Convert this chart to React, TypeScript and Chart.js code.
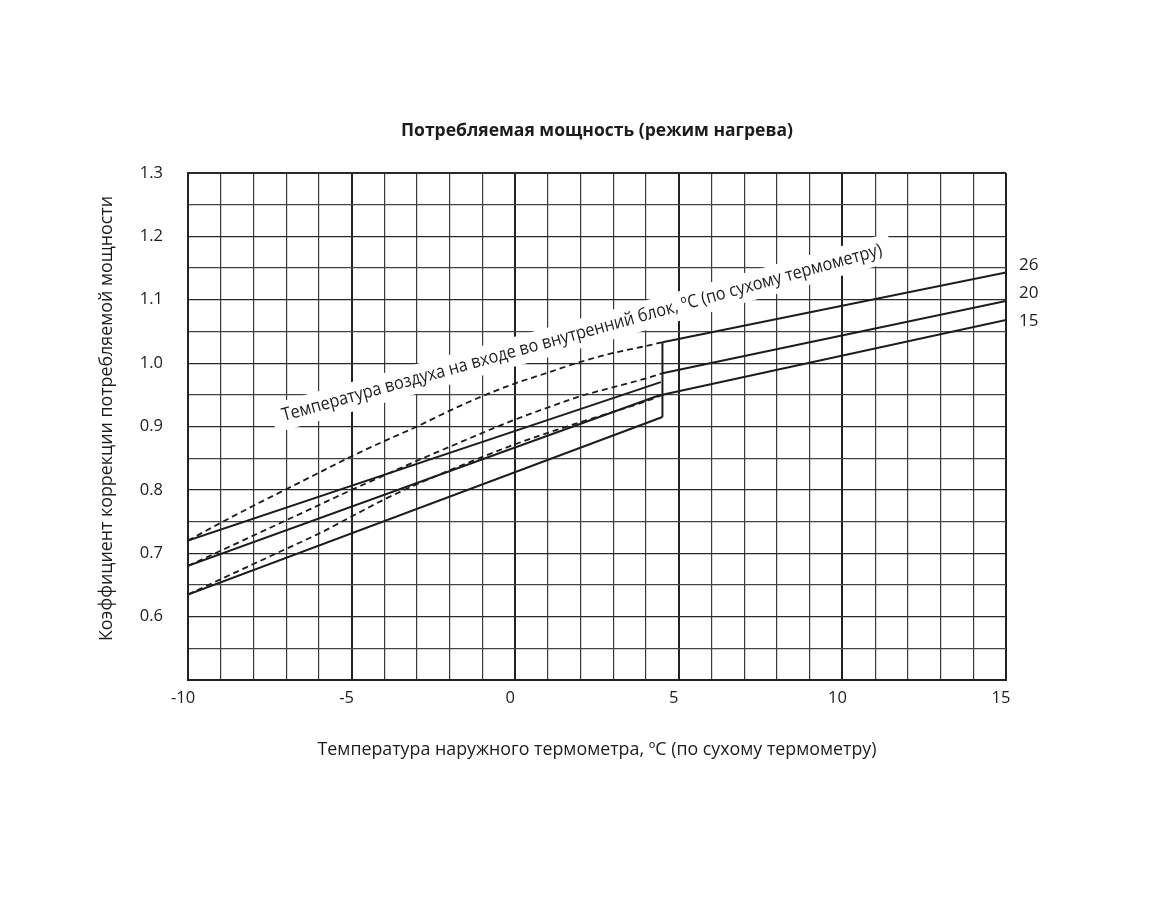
import React, { useEffect, useRef } from 'react';
import { Chart, registerables } from 'chart.js';

Chart.register(...registerables);

// ---------- Data ----------
const chartTitle = 'Потребляемая мощность (режим нагрева)';
const xAxisTitle = 'Температура наружного термометра, ºC (по сухому термометру)';
const yAxisTitle = 'Коэффициент коррекции потребляемой мощности';
const curveNote = 'Температура воздуха на входе во внутренний блок, ºC (по сухому термометру)';

const xTickLabels = [-10, -5, 0, 5, 10, 15];
const yTickLabels = [0.6, 0.7, 0.8, 0.9, 1.0, 1.1, 1.2, 1.3];

// indoor temperature curve labels (°C)
const indoorTemps = ['26', '20', '15'];
const indoorLabelValues = [1.155, 1.11, 1.066];

// dashed curves (left part)
const dashedX = [-10, -9, -8, -7, -6, -5, -4, -3, -2, -1, 0, 1, 2, 3, 4, 4.5];
const dashed26 = [0.72, 0.748, 0.775, 0.801, 0.827, 0.853, 0.877, 0.9, 0.925, 0.948, 0.968, 0.985, 1.002, 1.016, 1.027, 1.033];
const dashed20 = [0.68, 0.704, 0.728, 0.752, 0.776, 0.8, 0.823, 0.846, 0.868, 0.89, 0.911, 0.93, 0.948, 0.962, 0.976, 0.984];
const dashed15 = [0.635, 0.659, 0.683, 0.707, 0.731, 0.758, 0.785, 0.809, 0.831, 0.852, 0.872, 0.89, 0.907, 0.923, 0.94, 0.95];

// solid straight lines (left part)
const solidLeftX = [-10, 4.45];
const solidLeftTop = [0.72, 0.97];
const solidLeftMid = [0.68, 0.95];
const solidLeftLowX = [-10, 4.5];
const solidLeftLow = [0.635, 0.915];

// vertical limit line
const limitX = [4.5, 4.5];
const limitY = [0.915, 1.033];

// solid straight lines (right part)
const rightX = [4.5, 15];
const right26 = [1.033, 1.143];
const right20 = [0.984, 1.098];
const right15 = [0.95, 1.068];

// ---------- Helpers ----------
const FONT = '"Open Sans", "Noto Sans", sans-serif';
const INK = '#1c1c1c';

const pts = (xs: number[], ys: number[]) => xs.map((x, i) => ({ x, y: ys[i] }));

// draws text of a given font size, squeezed horizontally to a target width
function drawFitted(
  ctx: CanvasRenderingContext2D,
  text: string,
  x: number,
  y: number,
  size: number,
  weight: string,
  target: number,
  angleDeg: number
) {
  ctx.save();
  ctx.font = `${weight} ${size}px ${FONT}`;
  const w = ctx.measureText(text).width;
  ctx.translate(x, y);
  ctx.rotate((angleDeg * Math.PI) / 180);
  ctx.scale(target / w, 1);
  ctx.fillText(text, 0, 0);
  ctx.restore();
}

const NOTE_ANGLE = -15.5;
const NOTE_W = 622;
const NOTE_SIZE = 18;

const textPlugin = {
  id: 'textPlugin',
  beforeDatasetsDraw(chart: any) {
    const { ctx, scales } = chart;
    const cx = scales.x.getPixelForValue(2.04);
    const cy = scales.y.getPixelForValue(1.0475);
    ctx.save();
    ctx.translate(cx, cy);
    ctx.rotate((NOTE_ANGLE * Math.PI) / 180);
    ctx.fillStyle = '#ffffff';
    ctx.fillRect(-NOTE_W / 2 - 10, -NOTE_SIZE * 0.8, NOTE_W + 20, NOTE_SIZE * 1.6);
    ctx.restore();
  },
  afterDatasetsDraw(chart: any) {
    const { ctx, scales, chartArea } = chart;
    const midX = (chartArea.left + chartArea.right) / 2;
    ctx.save();
    ctx.fillStyle = INK;
    ctx.textAlign = 'center';
    ctx.textBaseline = 'middle';

    drawFitted(ctx, chartTitle, midX, 131, 17, '700', 392, 0);
    drawFitted(ctx, xAxisTitle, midX, 750, 17.5, '400', 559, 0);
    drawFitted(ctx, yAxisTitle, 107, (chartArea.top + chartArea.bottom) / 2 - 8, 17.5, '400', 445, -90);

    const cx = scales.x.getPixelForValue(2.04);
    const cy = scales.y.getPixelForValue(1.0475);
    drawFitted(ctx, curveNote, cx, cy, NOTE_SIZE, '400', NOTE_W, NOTE_ANGLE);

    ctx.font = `400 17px ${FONT}`;
    ctx.textAlign = 'left';
    indoorTemps.forEach((t, i) => {
      ctx.fillText(t, chartArea.right + 13, scales.y.getPixelForValue(indoorLabelValues[i]));
    });
    ctx.restore();
  },
};

export default function App() {
  const ref = useRef<HTMLCanvasElement>(null);

  useEffect(() => {
    if (!ref.current) return;
    const solid = { borderColor: INK, borderWidth: 2, pointRadius: 0, fill: false, tension: 0 };
    const dashed = {
      borderColor: INK,
      borderWidth: 1.8,
      borderDash: [6, 4],
      pointRadius: 0,
      fill: false,
      cubicInterpolationMode: 'monotone' as const,
    };
    const chart = new Chart(ref.current, {
      type: 'line',
      data: {
        datasets: [
          { label: 'dashed 26', data: pts(dashedX, dashed26), ...dashed },
          { label: 'dashed 20', data: pts(dashedX, dashed20), ...dashed },
          { label: 'dashed 15', data: pts(dashedX, dashed15), ...dashed },
          { label: 'left top', data: pts(solidLeftX, solidLeftTop), ...solid },
          { label: 'left mid', data: pts(solidLeftX, solidLeftMid), ...solid },
          { label: 'left low', data: pts(solidLeftLowX, solidLeftLow), ...solid },
          { label: 'limit', data: pts(limitX, limitY), ...solid },
          { label: '26', data: pts(rightX, right26), ...solid },
          { label: '20', data: pts(rightX, right20), ...solid },
          { label: '15', data: pts(rightX, right15), ...solid },
        ],
      },
      options: {
        responsive: false,
        animation: false,
        devicePixelRatio: 1,
        layout: { padding: { left: 0, top: 173, right: 164, bottom: 0 } },
        plugins: {
          legend: { display: false },
          tooltip: { enabled: false },
          title: { display: false },
        },
        scales: {
          x: {
            type: 'linear',
            min: -10,
            max: 15,
            afterFit: (s: any) => {
              s.height = 222;
            },
            afterBuildTicks: (s: any) => {
              const t = [];
              for (let v = -10; v <= 15; v++) t.push({ value: v });
              s.ticks = t;
            },
            ticks: {
              autoSkip: false,
              maxRotation: 0,
              padding: 8,
              labelOffset: -5,
              color: INK,
              font: { size: 16.5, family: FONT },
              callback: (v: any) => (xTickLabels.includes(Number(v)) ? String(v) : ''),
            },
            grid: {
              drawTicks: false,
              color: (c: any) => (c.tick && c.tick.value % 5 === 0 ? '#222222' : '#3a3a3a'),
              lineWidth: (c: any) => (c.tick && c.tick.value % 5 === 0 ? 2 : 1.2),
            },
            border: { display: true, width: 2, color: '#222222' },
          },
          y: {
            type: 'linear',
            min: 0.5,
            max: 1.3,
            afterFit: (s: any) => {
              s.width = 188;
            },
            afterBuildTicks: (s: any) => {
              const t = [];
              for (let k = 50; k <= 130; k += 5) t.push({ value: k / 100 });
              s.ticks = t;
            },
            ticks: {
              autoSkip: false,
              padding: 25,
              color: INK,
              font: { size: 16.5, family: FONT },
              callback: (v: any) => {
                const k = Math.round(Number(v) * 100);
                const hit = yTickLabels.find((y) => Math.round(y * 100) === k);
                return hit !== undefined ? hit.toFixed(1) : '';
              },
            },
            grid: {
              drawTicks: false,
              color: (c: any) => {
                const k = c.tick ? Math.round(c.tick.value * 100) : 0;
                return k % 10 === 0 ? '#2a2a2a' : '#444444';
              },
              lineWidth: (c: any) => {
                const k = c.tick ? Math.round(c.tick.value * 100) : 0;
                return k === 130 ? 2 : 1.2;
              },
            },
            border: { display: true, width: 2, color: '#222222' },
          },
        },
      },
      plugins: [textPlugin],
    });
    return () => chart.destroy();
  }, []);

  return (
    <div style={{ position: 'absolute', left: 0, top: 0, width: 1170, height: 902, background: '#fff' }}>
      <canvas ref={ref} width={1170} height={902} />
    </div>
  );
}
